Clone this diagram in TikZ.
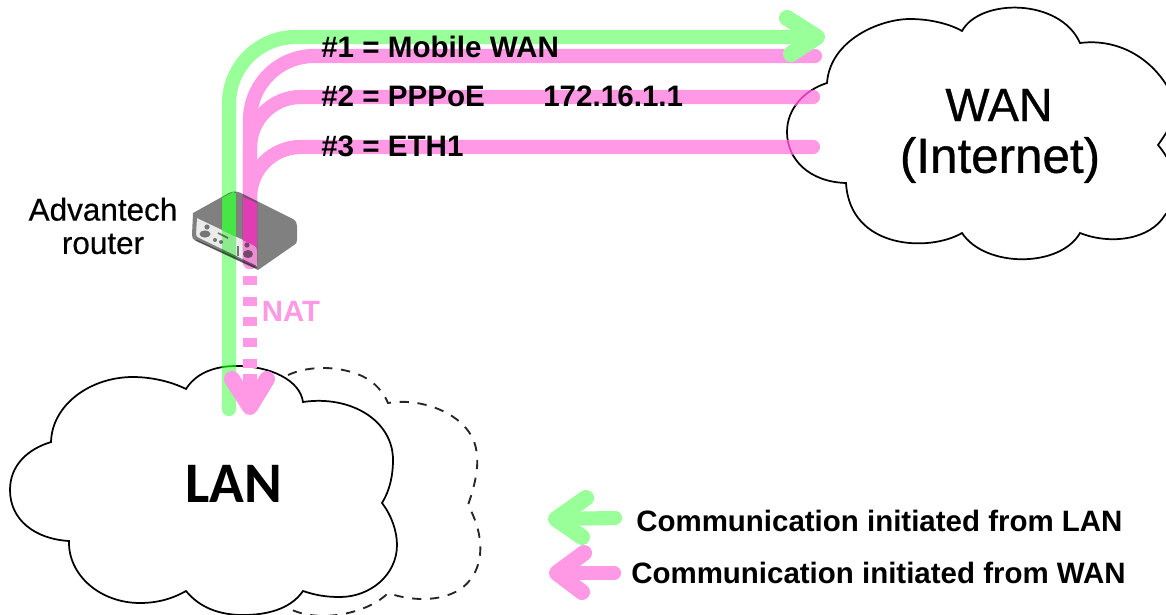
\documentclass[tikz,border=0pt]{standalone}
\usepackage{fontspec}
\setmainfont{Liberation Sans}
\newfontfamily\carlito{Carlito}
\newfontfamily\heavysans[FakeBold=0.7]{Liberation Sans}
\newfontfamily\semisans[FakeBold=0.35]{Liberation Sans}
\usetikzlibrary{calc}
\definecolor{lgreen}{HTML}{99FF99}
\definecolor{lpink}{HTML}{FF99E6}
\definecolor{sgreen}{RGB}{70,230,70}
\definecolor{spink}{RGB}{225,60,180}
\definecolor{rgray}{RGB}{128,128,128}
\def\wanpath{(962,31) .. controls (980,-2) and (1060,-2) .. (1080,43)
 .. controls (1120,38) and (1155,60) .. (1172,95) .. controls (1180,112) and (1172,125) .. (1158,145)
 .. controls (1175,165) and (1185,195) .. (1165,215) .. controls (1150,240) and (1110,245) .. (1080,233)
 .. controls (1060,268) and (985,268) .. (962,233)
 .. controls (930,252) and (850,250) .. (846,183)
 .. controls (810,182) and (787,160) .. (787,132) .. controls (787,108) and (805,90) .. (827,83)
 .. controls (830,40) and (880,19) .. (910,19) .. controls (930,19) and (950,24) .. cycle}
\def\lanpath{(186,389) .. controls (198,370) and (220,366) .. (237,366) .. controls (270,366) and (300,380) .. (303,402)
 .. controls (350,395) and (393,420) .. (393,460) .. controls (393,475) and (390,490) .. (382,503)
 .. controls (392,516) and (397,532) .. (397,545) .. controls (397,575) and (370,597) .. (340,597) .. controls (325,597) and (315,595) .. (303,591)
 .. controls (290,610) and (265,615) .. (243,615) .. controls (220,615) and (200,608) .. (186,591)
 .. controls (170,600) and (155,603) .. (140,603) .. controls (100,603) and (68,575) .. (69,541)
 .. controls (35,539) and (10,520) .. (10,490) .. controls (10,465) and (28,449) .. (51,442)
 .. controls (52,405) and (90,377) .. (133,377) .. controls (150,377) and (170,381) .. cycle}
\def\bodypath{(193,213) -- (229,193) .. controls (233,191) and (237,191) .. (241,193) -- (293,219) .. controls (296,221) and (297,223) .. (297,226) -- (297,240) .. controls (297,243) and (296,244) .. (294,245) -- (258,270) -- (196,241) .. controls (193,240) and (192,238) .. (192,235) -- cycle}
\def\panelpath{(197,218) -- (254,245) .. controls (256,246) and (257,248) .. (257,250) -- (257,266) -- (199,238) .. controls (197,237) and (196,236) .. (196,234) -- cycle}
\tikzset{
 cloudline/.style={draw=black,line width=1.3pt},
 dashcloud/.style={draw=black!85,line width=1.4pt,dash pattern=on 7pt off 6.5pt},
 gline/.style={draw=lgreen,line width=10.6pt,line cap=round,line join=round},
 pline/.style={draw=lpink,line width=10.6pt,line cap=round,line join=round},
 gchev/.style={draw=lgreen,line width=12pt,line cap=round,line join=round},
 pchev/.style={draw=lpink,line width=12pt,line cap=round,line join=round},
 pbar/.style={draw=lpink,line width=10.6pt},
 pdash/.style={draw=lpink,line width=10.6pt,dash pattern=on 6.75pt off 8.78pt},
 lab/.style={font=\bfseries\fontsize{22.2pt}{26pt}\selectfont,anchor=west,text=black,inner sep=0pt},
 leg/.style={font=\bfseries\fontsize{22.1pt}{26pt}\selectfont,anchor=west,text=black,inner sep=0pt},
}
\begin{document}
\begin{tikzpicture}[x=0.75pt,y=-0.75pt]
\useasboundingbox (0,0) rectangle (1166,614);
\clip (0,0) rectangle (1166,614);
% dashed cloud
\draw[dashcloud] (288,375) .. controls (310,365) and (340,366) .. (362,376) .. controls (375,382) and (384,393) .. (388,403)
 .. controls (410,399) and (440,405) .. (460,422) .. controls (478,438) and (484,460) .. (468,505)
 .. controls (482,530) and (486,560) .. (470,580) .. controls (455,600) and (420,604) .. (388,593)
 .. controls (370,612) and (320,625) .. (288,608);
% clouds
\draw[cloudline,fill=white] \wanpath;
\draw[cloudline,fill=white] \lanpath;
% named ends
\coordinate (gS) at (229,409);
\coordinate (gE) at (817,37);
\coordinate (pS) at (250,262);
\coordinate (p1E) at (815,56);
\coordinate (p2E) at (813,97);
\coordinate (p3E) at (813,147);
\coordinate (nS) at (250,276);
\coordinate (nE) at (250,407);
% pink routes
\draw[pline,rounded corners=48pt] (pS) |- (p1E);
\draw[pline,rounded corners=38pt] (pS) |- (p2E);
\draw[pline,rounded corners=38pt] (pS) |- (p3E);
% green route
\draw[gline,rounded corners=50pt] (gS) |- (gE);
\draw[gchev] ($(gE)+(-30,-19)$) -- (gE) -- ($(gE)+(-26,17)$);
% NAT dashed route
\draw[pdash] (nS) -- (nE);
\draw[pbar] ($(nE)+(0,-33)$) -- (nE);
\draw[pchev] ($(nE)+(-18,-28)$) -- (nE) -- ($(nE)+(17,-28)$);
% cloud outline showing through the routes
\begin{scope}
\clip (780,90) rectangle (830,105);
\draw[line width=1.3pt,draw=spink] \wanpath;
\end{scope}
\begin{scope}
\clip (780,140) rectangle (830,154);
\draw[line width=1.3pt,draw=spink] \wanpath;
\end{scope}
\begin{scope}
\clip (222,355) rectangle (236,375);
\draw[line width=1.3pt,draw=green!70!black] \lanpath;
\end{scope}
% router
\begin{scope}[blend mode=multiply]
\fill[rgray,even odd rule] \bodypath \panelpath;
\fill[black!8] \panelpath;
\fill[rgray] (207,227) circle (2.6);
\fill[rgray] (205,234) ellipse (5.5 and 3.6);
\draw[rgray,line width=1.3pt] (218,233) -- (228,238);
\fill[rgray] (215,240) circle (2);
\fill[rgray] (221,242) circle (2);
\draw[rgray,line width=1.3pt] (238,246) -- (238,256);
\fill[rgray] (247,245) circle (2.6);
\fill[rgray] (248,254) ellipse (5 and 4);
\draw[black!45,line width=0.7pt] (196,240) -- (257,268);
\end{scope}
\begin{scope}
\clip (193,213) -- (233,192) -- (297,222) -- (297,243) -- (258,270) -- (257,247) -- (197,218) -- cycle;
\fill[sgreen] (222,185) rectangle (236,240);
\fill[spink] (243,185) rectangle (257,270);
\end{scope}
% labels
\node[lab] (t1) at (321,47) {\#1 = Mobile WAN};
\node[lab] (t2) at (321,96) {\#2 = PPPoE};
\node[lab] (t2b) at (543,96) {172.16.1.1};
\node[lab] (t3) at (321,146) {\#3 = ETH1};
\node[inner sep=0pt,font=\heavysans\fontsize{35pt}{41pt}\selectfont] (wan1) at (999,105) {WAN};
\node[inner sep=0pt,font=\heavysans\fontsize{37pt}{41pt}\selectfont] (wan2) at (1000,160) {(Internet)};
\node[inner sep=0pt,font=\carlito\bfseries\fontsize{43pt}{50pt}\selectfont] (lan) at (234,484) {LAN};
\node[align=center,inner sep=0pt,font=\semisans\fontsize{23.6pt}{25pt}\selectfont] (adv) at (103,226) {Advantech\\router};
\node[inner sep=0pt,text=lpink,font=\bfseries\fontsize{22pt}{25pt}\selectfont] (nat) at (291,311) {NAT};
% legend
\node[leg] (l1) at (636,521) {Communication initiated from LAN};
\node[leg] (l2) at (631,573) {Communication initiated from WAN};
\coordinate (a1) at (556,519);
\coordinate (a2) at (557,573);
\draw[gline] (l1.west) ++(-21,-3) -- (a1);
\draw[gchev] ($(a1)+(30,-21)$) -- (a1) -- ($(a1)+(26,18)$);
\draw[pline] (l2.west) ++(-17,0) -- (a2);
\draw[pchev] ($(a2)+(27,-20)$) -- (a2) -- ($(a2)+(25,19)$);
\end{tikzpicture}
\end{document}
